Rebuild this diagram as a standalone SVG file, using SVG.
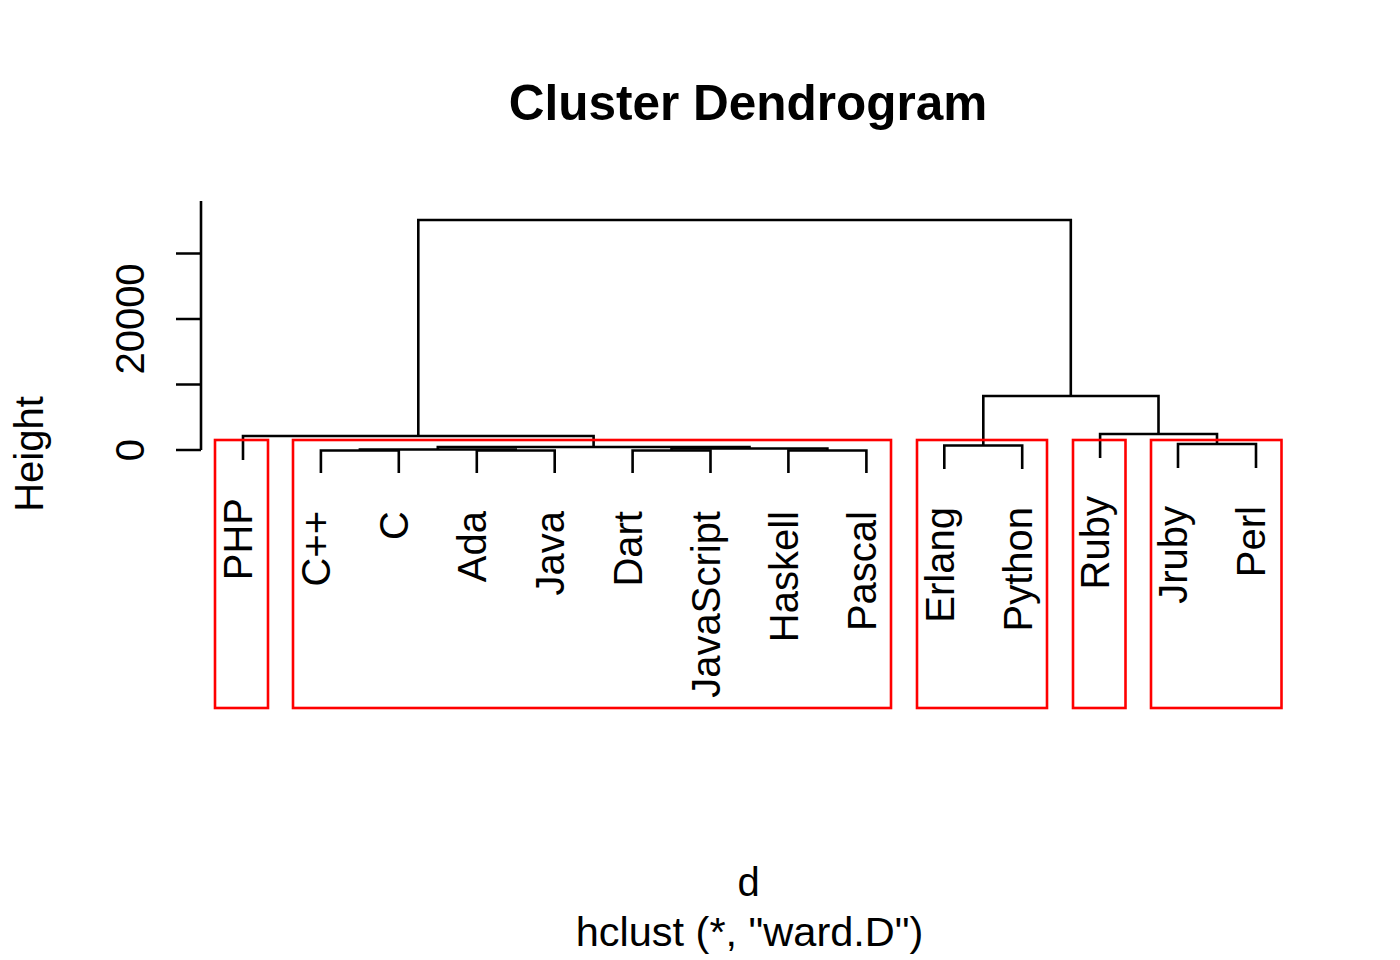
<svg xmlns="http://www.w3.org/2000/svg" width="1400" height="960" viewBox="0 0 1400 960">
<style>
text{font-family:"Liberation Sans",Arial,sans-serif;fill:#000}
.lbl{font-size:40px;text-anchor:end}
.mid{font-size:40px;text-anchor:middle}
.tree{fill:none;stroke:#000;stroke-width:2.6;stroke-linecap:butt}
.box{fill:none;stroke:#ff0000;stroke-width:2.6}
</style>
<rect x="0" y="0" width="1400" height="960" fill="#fff"/>
<text x="748" y="120" font-size="49.5" font-weight="bold" text-anchor="middle">Cluster Dendrogram</text>
<g id="axis" class="tree">
<path d="M201,201 V450"/>
<path d="M176,450 H201 M176,384.5 H201 M176,319 H201 M176,253.5 H201"/>
</g>
<text class="mid" transform="translate(144,450) rotate(-90)">0</text>
<text class="mid" transform="translate(144,319) rotate(-90)">20000</text>
<text class="mid" transform="translate(43,454) rotate(-90)">Height</text>
<g id="connectors" class="tree">
<path d="M320.9,473 V450.5 H398.8 V473"/>
<path d="M476.8,473 V450.5 H554.7 V473"/>
<path d="M359.9,450.5 V449.5 H515.7 V450.5"/>
<path d="M632.6,473 V450.5 H710.5 V473"/>
<path d="M788.4,473 V450.5 H866.4 V473"/>
<path d="M671.5,450.5 V448.5 H827.4 V450.5"/>
<path d="M437.8,449.5 V447 H749.5 V448.5"/>
<path d="M243,460 V436 H593.6 V447"/>
<path d="M418.3,436 V220 H1070.8 V396"/>
<path d="M944.3,469 V445.5 H1022.2 V469"/>
<path d="M983.3,445.5 V396 H1158.5 V434"/>
<path d="M1178,468 V444 H1256 V468"/>
<path d="M1100.1,458 V434 H1217 V444"/>
</g>
<g id="leaves">
<text id="PHP" class="lbl" transform="translate(252,498) rotate(-90)">PHP</text>
<text id="Cpp" class="lbl" transform="translate(330,511) rotate(-90)">C++</text>
<text id="C" class="lbl" transform="translate(408,511) rotate(-90)">C</text>
<text id="Ada" class="lbl" transform="translate(486,511) rotate(-90)">Ada</text>
<text id="Java" class="lbl" transform="translate(564,511) rotate(-90)">Java</text>
<text id="Dart" class="lbl" transform="translate(641.5,511) rotate(-90)">Dart</text>
<text id="JavaScript" class="lbl" transform="translate(719.5,511) rotate(-90)">JavaScript</text>
<text id="Haskell" class="lbl" transform="translate(797.5,511) rotate(-90)">Haskell</text>
<text id="Pascal" class="lbl" transform="translate(875.5,511) rotate(-90)">Pascal</text>
<text id="Erlang" class="lbl" transform="translate(953.5,507) rotate(-90)">Erlang</text>
<text id="Python" class="lbl" transform="translate(1031.5,507) rotate(-90)">Python</text>
<text id="Ruby" class="lbl" transform="translate(1109,496) rotate(-90)">Ruby</text>
<text id="Jruby" class="lbl" transform="translate(1187,506) rotate(-90)">Jruby</text>
<text id="Perl" class="lbl" transform="translate(1265,506) rotate(-90)">Perl</text>
</g>
<g id="clusters" class="box">
<rect x="215" y="440" width="53" height="268"/>
<rect x="293" y="440" width="598" height="268"/>
<rect x="917" y="440" width="130" height="268"/>
<rect x="1073" y="440" width="52.5" height="268"/>
<rect x="1151" y="440" width="130.5" height="268"/>
</g>
<text class="mid" x="748.5" y="896" font-size="41">d</text>
<text class="mid" x="749.5" y="946" style="font-size:41.5px">hclust (*, "ward.D")</text>
</svg>
